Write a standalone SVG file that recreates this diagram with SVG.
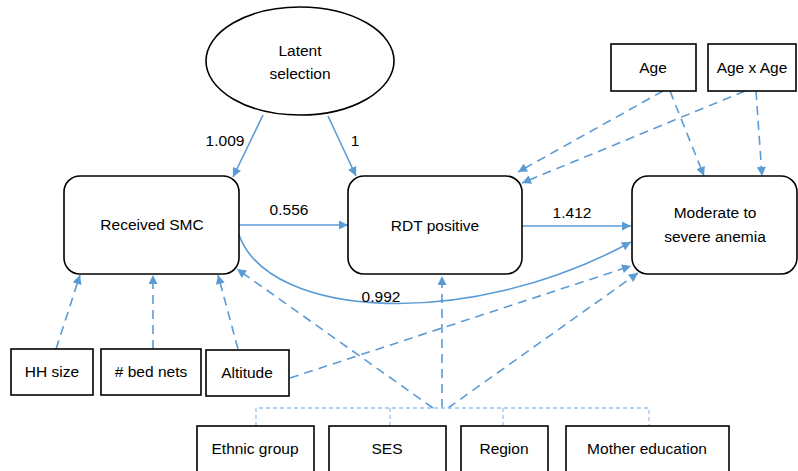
<svg xmlns="http://www.w3.org/2000/svg" width="798" height="471" viewBox="0 0 798 471">
<defs>
<marker id="ah" viewBox="0 0 10 10" refX="10" refY="5" markerWidth="10" markerHeight="9" markerUnits="userSpaceOnUse" orient="auto">
<path d="M0,0 L10,5 L0,10 z" fill="#5B9BD5"/>
</marker>
<style>
.t{font-family:"Liberation Sans",Arial,sans-serif;font-size:15.5px;fill:#000;text-anchor:middle}
.box{fill:#fff;stroke:#000;stroke-width:1.6}
.s{fill:none;stroke:#5B9BD5;stroke-width:1.6;marker-end:url(#ah)}
.d{fill:none;stroke:#5B9BD5;stroke-width:1.6;stroke-dasharray:9,6;marker-end:url(#ah)}
.br{fill:none;stroke:#9DC3E6;stroke-width:1.3;stroke-dasharray:4,3}
</style>
</defs>
<rect width="798" height="471" fill="#fff"/>
<g id="connectors">
<path class="s" d="M263,115 L233,177"/>
<path class="s" d="M328,116 L356,176"/>
<path class="s" d="M239,225 L348,225"/>
<path class="s" d="M522,226 L631,226"/>
<path class="s" d="M239,235 C270,320 470,330 631,242"/>
<path class="d" d="M670,91 L704,176"/>
<path class="d" d="M756,91 L762,176"/>
<path class="d" d="M663,91 L518,172"/>
<path class="d" d="M745,91 L522,183"/>
<path class="d" d="M56,349 L80,275"/>
<path class="d" d="M153,349 L153,275"/>
<path class="d" d="M238,349 L218,275"/>
<path class="d" d="M290,378 L631,266"/>
<path class="d" d="M433,408 L237,269"/>
<path class="d" d="M442,408 L442,276"/>
<path class="d" d="M448,408 L638,273"/>
<path class="br" d="M256,426 L256,408 L649,408 L649,426 M390,408 L390,426 M503,408 L503,426"/>
<text class="t" x="225" y="146">1.009</text>
<text class="t" x="355" y="146">1</text>
<text class="t" x="289" y="215">0.556</text>
<text class="t" x="572" y="218">1.412</text>
<text class="t" x="381" y="302">0.992</text>
</g>
<g id="latent">
<ellipse cx="300" cy="61" rx="94" ry="54" fill="#fff" stroke="#000" stroke-width="1.6"/>
<text class="t" x="300" y="56">Latent</text>
<text class="t" x="300" y="79">selection</text>
</g>
<g id="smc">
<rect class="box" x="64" y="176" width="175" height="98" rx="16"/>
<text class="t" x="152" y="230">Received SMC</text>
</g>
<g id="rdt">
<rect class="box" x="348" y="176" width="174" height="98" rx="16"/>
<text class="t" x="435" y="231">RDT positive</text>
</g>
<g id="anemia">
<rect class="box" x="632" y="176" width="165" height="98" rx="16"/>
<text class="t" x="715" y="218">Moderate to</text>
<text class="t" x="715" y="242">severe anemia</text>
</g>
<g id="age">
<rect class="box" x="611" y="44" width="85" height="47"/>
<text class="t" x="653" y="73">Age</text>
</g>
<g id="agexage">
<rect class="box" x="708" y="44" width="88" height="47"/>
<text class="t" x="752" y="73">Age x Age</text>
</g>
<g id="hhsize">
<rect class="box" x="11" y="349" width="82" height="46"/>
<text class="t" x="52" y="377">HH size</text>
</g>
<g id="bednets">
<rect class="box" x="101" y="349" width="100" height="46"/>
<text class="t" x="151" y="377"># bed nets</text>
</g>
<g id="altitude">
<rect class="box" x="206" y="350" width="83" height="46"/>
<text class="t" x="247" y="378">Altitude</text>
</g>
<g id="ethnic">
<rect class="box" x="197" y="426" width="117" height="50"/>
<text class="t" x="255" y="454">Ethnic group</text>
</g>
<g id="ses">
<rect class="box" x="329" y="426" width="117" height="50"/>
<text class="t" x="387" y="454">SES</text>
</g>
<g id="region">
<rect class="box" x="461" y="426" width="87" height="50"/>
<text class="t" x="504" y="454">Region</text>
</g>
<g id="mothered">
<rect class="box" x="566" y="426" width="163" height="50"/>
<text class="t" x="647" y="454">Mother education</text>
</g>
</svg>
